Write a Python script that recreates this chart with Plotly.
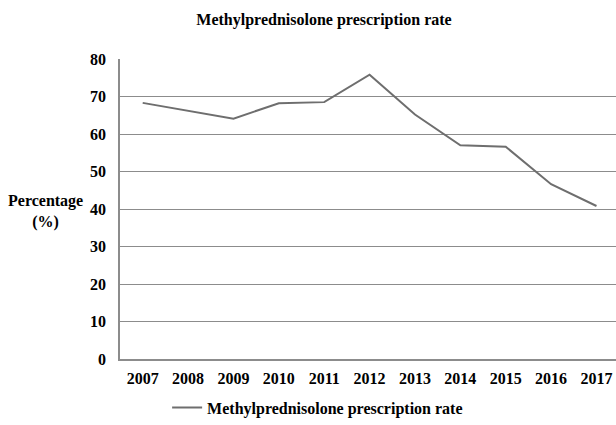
import plotly.graph_objects as go

years = ["2007", "2008", "2009", "2010", "2011", "2012", "2013", "2014", "2015", "2016", "2017"]
rates = [68.3, 66.3, 64.1, 68.2, 68.5, 75.8, 65.2, 57.0, 56.6, 46.6, 40.8]
series_name = "Methylprednisolone prescription rate"
title_text = "Methylprednisolone prescription rate"
y_title = "Percentage<br>(%)"

FONT = "Liberation Serif"

fig = go.Figure()
fig.add_trace(go.Scatter(
    x=years, y=rates, mode="lines", name=series_name,
    line=dict(color="#6e6e6e", width=2),
))

fig.update_layout(
    width=616, height=425,
    margin=dict(l=120, r=0, t=59, b=64),
    paper_bgcolor="white", plot_bgcolor="white",
    font=dict(family=FONT, size=16, color="black"),
    title=dict(text="<b>" + title_text + "</b>", x=0.526, xanchor="center",
               y=0.955, yanchor="middle", font=dict(family=FONT, size=16, color="black")),
    showlegend=True,
    legend=dict(orientation="h", x=0.095, xanchor="left", y=-0.162, yanchor="middle",
                font=dict(family=FONT, size=16, color="black", weight="bold"),
                itemwidth=30, bgcolor="rgba(0,0,0,0)"),
    xaxis=dict(
        type="category", range=[-0.5, 10.43],
        showgrid=False, showline=True, linecolor="#8c8c8c", linewidth=1.5,
        ticks="outside", ticklen=4, tickcolor="rgba(0,0,0,0)",
        tickfont=dict(family=FONT, size=16, color="black", weight="bold"),
        zeroline=False,
    ),
    yaxis=dict(
        range=[0, 80], dtick=10,
        showgrid=True, gridcolor="#8c8c8c", gridwidth=1,
        showline=True, linecolor="#8c8c8c", linewidth=1.5,
        ticks="outside", ticklen=9, tickcolor="rgba(0,0,0,0)",
        tickfont=dict(family=FONT, size=16, color="black", weight="bold"),
        zeroline=False,
    ),
)

fig.add_annotation(
    text="<b>" + y_title + "</b>", xref="paper", yref="paper",
    x=-0.151, y=0.493, xanchor="center", yanchor="middle", showarrow=False,
    font=dict(family=FONT, size=16, color="black"), align="center",
)

fig.write_html(
    "out.html",
    config={"displayModeBar": False},
    post_script="document.body.style.margin='0';document.body.style.overflow='hidden';",
)
